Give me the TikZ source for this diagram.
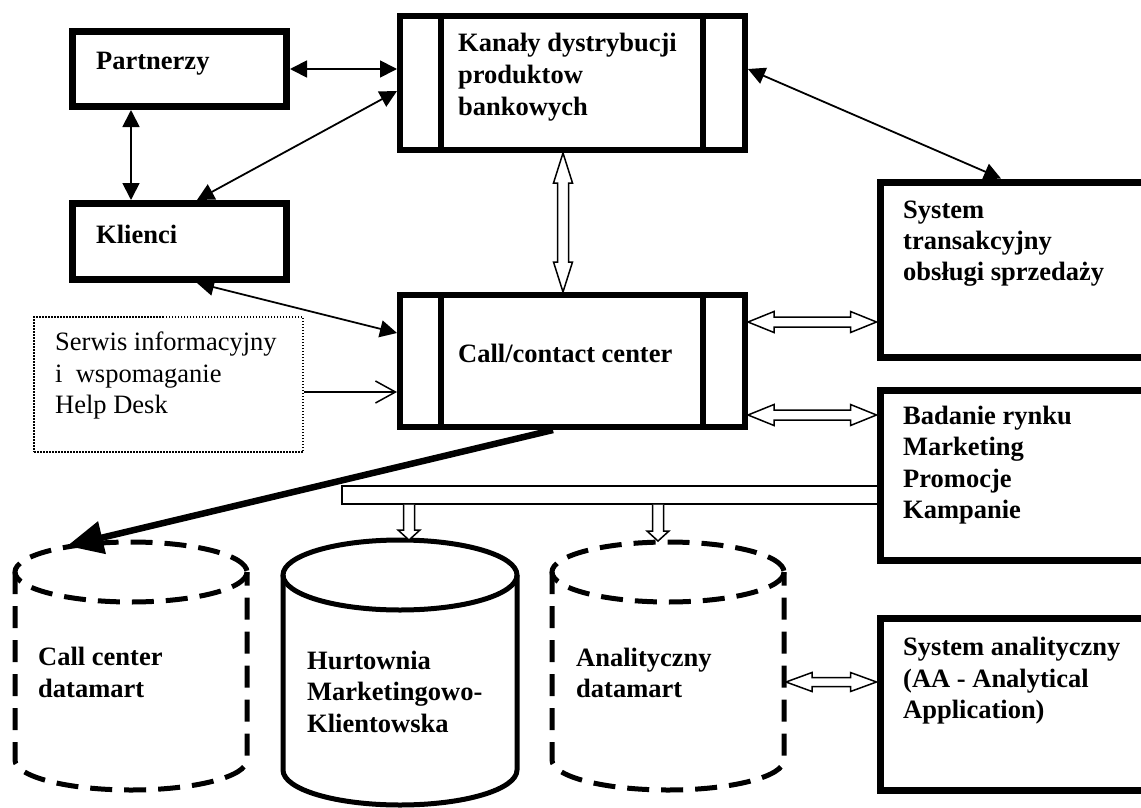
\documentclass[tikz,border=0pt]{standalone}
\usepackage{fontspec}
\setmainfont{Liberation Serif}
\usetikzlibrary{arrows.meta,calc}
\newcommand\hollowdbl[5]{% start, end, head length, head half width, shaft half width
  \filldraw[hollow] (#1)
    -- ($(#1)!#3!(#2)!#4!90:(#2)$)
    -- ($(#1)!#3!(#2)!#5!90:(#2)$)
    -- ($(#2)!#3!(#1)!#5!-90:(#1)$)
    -- ($(#2)!#3!(#1)!#4!-90:(#1)$)
    -- (#2)
    -- ($(#2)!#3!(#1)!#4!90:(#1)$)
    -- ($(#2)!#3!(#1)!#5!90:(#1)$)
    -- ($(#1)!#3!(#2)!#5!-90:(#2)$)
    -- ($(#1)!#3!(#2)!#4!-90:(#2)$)
    -- cycle;}
\newcommand\hollowsgl[5]{% start, tip, head length, head half width, shaft half width
  \fill[white] ($(#1)!#5!90:(#2)$)
    -- ($(#2)!#3!(#1)!#5!-90:(#1)$)
    -- ($(#2)!#3!(#1)!#4!-90:(#1)$)
    -- (#2)
    -- ($(#2)!#3!(#1)!#4!90:(#1)$)
    -- ($(#2)!#3!(#1)!#5!90:(#1)$)
    -- ($(#1)!#5!-90:(#2)$) -- cycle;
  \draw[hollow] ($(#1)!#5!90:(#2)$)
    -- ($(#2)!#3!(#1)!#5!-90:(#1)$)
    -- ($(#2)!#3!(#1)!#4!-90:(#1)$)
    -- (#2)
    -- ($(#2)!#3!(#1)!#4!90:(#1)$)
    -- ($(#2)!#3!(#1)!#5!90:(#1)$)
    -- ($(#1)!#5!-90:(#2)$);}
\tikzset{
  box/.style={draw, line width=7pt, rectangle, inner sep=0pt},
  chanbox/.style={draw, line width=6pt, rectangle, inner sep=0pt},
  lbl/.style={anchor=base west, inner sep=0pt, font=\fontsize{26.5}{31.5}\selectfont\bfseries},
  plainlbl/.style={anchor=base west, inner sep=0pt, font=\fontsize{26.5}{31.5}\selectfont},
  hollow/.style={draw, fill=white, line width=1.5pt, line join=miter},
  thinarr/.style={line width=1.8pt, {Triangle[length=17pt,width=17pt]}-{Triangle[length=17pt,width=17pt]}},
  dashcyl/.style={line width=5pt, dash pattern=on 22pt off 12pt},
  solidcyl/.style={line width=5pt},
}
\begin{document}
\begin{tikzpicture}[x=1pt, y=-1pt]
\useasboundingbox (0,0) rectangle (1141,808);
\clip (0,0) rectangle (1141,808);
\fill[white] (0,0) rectangle (1141,808);

% boxes
\node[box, minimum width=214, minimum height=75] (partnerzy) at (179.5,69) {};
\node[box, minimum width=214, minimum height=76] (klienci) at (179.5,241.5) {};
\node[chanbox, minimum width=345, minimum height=134] (kanaly) at (572.5,83) {};
\draw[line width=6pt] ($(kanaly.north west)+(44,0)$) -- ($(kanaly.south west)+(44,0)$);
\draw[line width=6pt] ($(kanaly.north east)+(-45,0)$) -- ($(kanaly.south east)+(-45,0)$);
\node[chanbox, minimum width=345, minimum height=132] (callc) at (572.5,361) {};
\draw[line width=6pt] ($(callc.north west)+(44,0)$) -- ($(callc.south west)+(44,0)$);
\draw[line width=6pt] ($(callc.north east)+(-45,0)$) -- ($(callc.south east)+(-45,0)$);
\node[draw, line width=1.5pt, dash pattern=on 1.5pt off 1.5pt, inner sep=0pt, minimum width=269, minimum height=135] (serwis) at (168.5,384.5) {};

\node[draw, line width=1.5pt, inner sep=0pt, minimum width=537, minimum height=18] (bar) at (610.5,495) {};

\node[box, minimum width=270, minimum height=175] (systr) at (1015,269.5) {};
\node[box, minimum width=270, minimum height=170] (badanie) at (1015,475) {};
\node[box, minimum width=270, minimum height=172] (sysan) at (1015,704) {};

% cylinders
\draw[dashcyl] (131,572) ellipse [x radius=116, y radius=30];
\draw[dashcyl] (15,572) -- (15,760) .. controls (15,776.57) and (66.93,790) .. (131,790) .. controls (195.07,790) and (247,776.57) .. (247,760) -- (247,572);
\draw[solidcyl] (400,575) ellipse [x radius=117, y radius=35];
\draw[solidcyl] (283,575) -- (283,770) .. controls (283,789.33) and (335.38,805) .. (400,805) .. controls (464.62,805) and (517,789.33) .. (517,770) -- (517,575);
\draw[dashcyl] (668,572) ellipse [x radius=116, y radius=30];
\draw[dashcyl] (552,572) -- (552,760) .. controls (552,776.57) and (603.93,790) .. (668,790) .. controls (732.07,790) and (784,776.57) .. (784,760) -- (784,572);
\coordinate (ccdmtop) at (67,546);
\coordinate (hurttop) at (409,540);
\coordinate (admtop) at (658,541);
\coordinate (admeast) at (786,682);

% texts
\node[lbl] (tpart) at (96,70) {Partnerzy};
\node[lbl] (tkli) at (96,243) {Klienci};
\node[lbl] (tkan1) at (458,52) {Kanały dystrybucji};
\node[lbl] (tkan2) at (458,83.5) {produktow};
\node[lbl] (tkan3) at (458,115) {bankowych};
\node[lbl] (tcall) at (458,362) {Call/contact center};
\node[lbl] (tst1) at (903,218) {System};
\node[lbl] (tst2) at (903,249) {transakcyjny};
\node[lbl] (tst3) at (903,280) {obsługi sprzedaży};
\node[lbl] (tbad1) at (903,424) {Badanie rynku};
\node[lbl] (tbad2) at (903,455.5) {Marketing};
\node[lbl] (tbad3) at (903,487) {Promocje};
\node[lbl] (tbad4) at (903,518) {Kampanie};
\node[lbl] (tsa1) at (903,655) {System analityczny};
\node[lbl] (tsa2) at (903,687) {(AA - Analytical};
\node[lbl] (tsa3) at (903,718) {Application)};
\node[plainlbl] (tser1) at (55,350) {Serwis informacyjny};
\node[plainlbl] (tser2) at (55,382) {i\ \ wspomaganie};
\node[plainlbl] (tser3) at (55,413) {Help Desk};
\node[lbl] (tcc1) at (38,665) {Call center};
\node[lbl] (tcc2) at (38,697) {datamart};
\node[lbl] (thu1) at (307,669) {Hurtownia};
\node[lbl] (thu2) at (307,700.5) {Marketingowo-};
\node[lbl] (thu3) at (307,732) {Klientowska};
\node[lbl] (tad1) at (576,666) {Analityczny};
\node[lbl] (tad2) at (576,697) {datamart};

% connectors
\draw[thinarr] (partnerzy.east) -- (kanaly.west |- partnerzy.east);
\draw[thinarr] (partnerzy.south -| 131,0) -- (klienci.north -| 131,0);
\draw[thinarr] (kanaly.west |- 0,91) -- (klienci.north -| 197,0);
\draw[thinarr] (kanaly.east |- 0,69) -- (systr.north -| 1001,0);
\draw[thinarr] (klienci.south -| 197,0) -- (callc.west |- 0,333);
\draw[line width=1.5pt, -{Straight Barb[length=20pt,width=22pt]}] (serwis.east |- 0,392) -- (callc.west |- 0,392);
\draw[line width=6.5pt, -{Triangle[length=36pt,width=32pt]}] (callc.south -| 553,0) -- (ccdmtop);

\hollowdbl{kanaly.south -| 563,0}{callc.north -| 563,0}{30pt}{9.5pt}{5.5pt}
\hollowdbl{callc.east |- 0,322}{systr.west |- 0,322}{26pt}{10.5pt}{5pt}
\hollowdbl{callc.east |- 0,415}{badanie.west |- 0,415}{26pt}{10.5pt}{5pt}
\hollowdbl{admeast}{sysan.west |- admeast}{26pt}{9.5pt}{4.5pt}
\hollowsgl{bar.south -| 409,0}{hurttop}{10pt}{11pt}{5.5pt}
\hollowsgl{bar.south -| 658,0}{admtop}{10pt}{11pt}{5.5pt}
\end{tikzpicture}
\end{document}
